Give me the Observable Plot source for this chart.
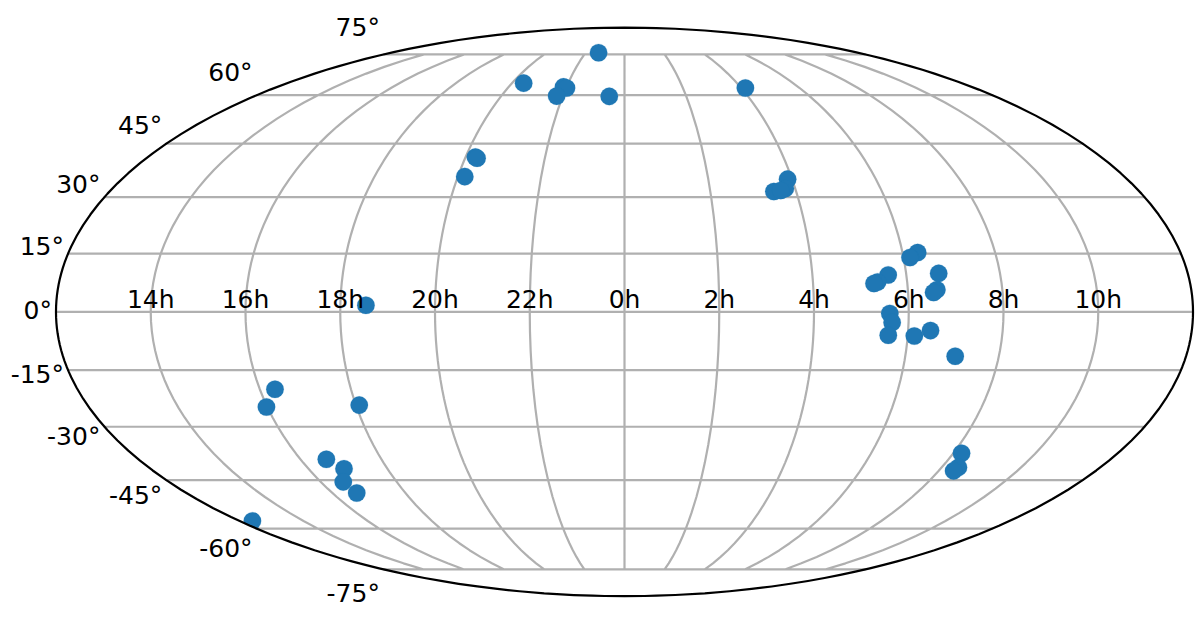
<!DOCTYPE html>
<html><head><meta charset="utf-8">
<script src="https://cdn.jsdelivr.net/npm/d3@7"></script>
<script src="https://cdn.jsdelivr.net/npm/@observablehq/plot@0.6"></script>
<style>html,body{margin:0;padding:0;background:#fff}svg{display:block}</style>
</head><body>
<script>
// Source positions: longitude (degrees, RA wrapped to ±180) and declination
const lon = [-20.0,-53.8,-31.6,-29.8,-33.0,-7.4,62.1,-56.3,-55.5,-57.5,58.4,52.2,56.5,54.7,94.9,92.1,100.4,99.2,98.1,84.2,80.6,79.4,84.0,84.8,83.8,92.1,97.1,106.0,123.0,126.3,125.7,-115.0,-120.3,-88.9,-110.4,-106.5,-111.1,-110.0,-173.9,-81.9];
const dec = [75.7,64.1,62.8,62.4,59.7,59.6,62.4,41.1,40.8,35.6,34.9,31.5,32.3,31.8,15.3,14.0,9.9,5.7,5.0,9.5,7.7,7.3,-0.4,-2.7,-6.0,-6.2,-4.8,-11.4,-37.3,-41.3,-42.3,-20.0,-24.7,-24.2,-39.0,-41.7,-45.5,-48.8,-57.5,1.7];
const parallels = [-75,-60,-45,-30,-15,0,15,30,45,60,75];
const meridians = [-150,-120,-90,-60,-30,0,30,60,90,120,150];
const meridianLabels = ["14h","16h","18h","20h","22h","0h","2h","4h","6h","8h","10h"];
const latLabels = ["-75°","-60°","-45°","-30°","-15°","0°","15°","30°","45°","60°","75°"];

function mollweideRaw(l, p) {
  let t = p;
  const c = Math.PI * Math.sin(p);
  if (Math.abs(Math.abs(p) - Math.PI / 2) > 1e-9) {
    for (let i = 0; i < 40; i++) {
      const d = (2 * t + Math.sin(2 * t) - c) / (2 + 2 * Math.cos(2 * t));
      t -= d;
      if (Math.abs(d) < 1e-10) break;
    }
  }
  return [2 * Math.SQRT2 / Math.PI * l * Math.cos(t), Math.SQRT2 * Math.sin(t)];
}
const projection = d3.geoProjection(mollweideRaw).scale(201).translate([624, 311.4]).precision(0.1);

const grid = {type: "MultiLineString", coordinates: [
  ...meridians.map(m => d3.range(-75, 75.01, 5).map(a => [m, a])),
  ...parallels.map(a => d3.range(-180, 180.01, 3).map(m => [m, a]))
]};
const pts = lon.map((x, i) => ({x, y: dec[i]}));

const chart = Plot.plot({
  width: 1200, height: 617, margin: 0,
  projection,
  marks: [
    Plot.geo([grid], {stroke: "#b0b0b0", strokeWidth: 2.2, fill: "none"}),
    Plot.dot(pts, {x: "x", y: "y", r: 8.8, fill: "#1f77b4", stroke: "#1f77b4", strokeOpacity: 0.35, strokeWidth: 0.5, clip: "sphere"}),
    Plot.sphere({stroke: "black", strokeWidth: 2.2}),
    Plot.text(meridians.map((m, i) => ({m, t: meridianLabels[i]})), {
      x: "m", y: () => 0, text: "t", fontSize: 25, fontFamily: "DejaVu Sans", fill: "black",
      textAnchor: "middle", lineAnchor: "bottom", dy: -4
    }),
    ...parallels.map((a, i) => {
      const py = projection([-180, a])[1];
      return Plot.text([a], {
        x: () => -180, y: d => d, text: () => latLabels[i], fontSize: 25, fontFamily: "DejaVu Sans", fill: "black",
        textAnchor: "end", dx: -4, dy: 0.1 * (py - 311.4) - 1
      });
    })
  ]
});
document.body.appendChild(chart);
</script></body></html>
